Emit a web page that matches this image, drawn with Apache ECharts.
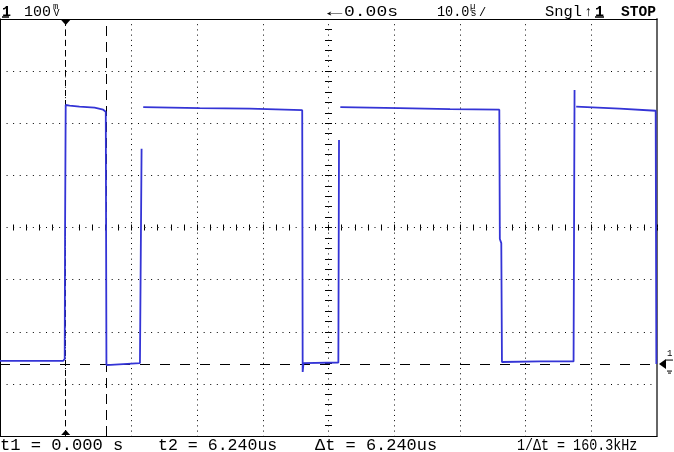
<!DOCTYPE html>
<html><head><meta charset="utf-8">
<script src="https://cdn.jsdelivr.net/npm/echarts@6/dist/echarts.min.js"></script>
<style>html,body{margin:0;padding:0;background:#fff}#c{width:674px;height:452px}</style>
</head><body><div id="c"></div>
<script>
// Horizontal: 10 µs / div, 10 divisions
const timeTicks = [-10, 0, 10, 20, 30, 40, 50, 60, 70, 80, 90];
// Vertical: 100 mV / div, 8 divisions, screen centre = 0
const voltTicks = [-400, -300, -200, -100, 0, 100, 200, 300, 400];
// Channel 1 ground marker position (mV from screen centre)
const groundLevelMv = -262;
// Cursors (µs)
const cursorT1 = 0;
const cursorT2 = 6.24;
// Captured trace: time (µs)
const traceTime = [-10, -0.4, -0.15, -0.1, 0, 0.6, 2.1, 4.4, 5.7, 6.1,
  6.2, 6.4, 11.3, 11.5, 11.55, 11.7, 11.8, 20.4, 28.0, 36.0,
  36.07, 36.2, 41.5, 41.6, 41.7, 41.8, 50.8, 58.5, 66.0, 66.08,
  66.3, 66.4, 72.2, 77.3, 77.45, 77.55, 77.7, 84.3, 89.8, 89.9, 90];
// Captured trace: mV above ground (null = no trace drawn)
const traceMv = [6, 6, 10, 250, 497, 496, 494, 492, 488, 484,
  -2, -2, 2, 2, 413, null, 493, 491, 490, 487,
  -15, 2, 3, 430, null, 493, 491, 489, 488, 240,
  232, 4, 5, 5, 526, null, 494, 490, 486, 0, 0];
// Status texts
const topTexts = {ch: '1', scale: '100', delay: '0.00s', timebase: '10.0', mode: 'Sngl', trig: '1', run: 'STOP'};
const bottomTexts = ['t1 = 0.000 s', 't2 = 6.240us', 'Δt = 6.240us', '1/Δt = 160.3kHz'];

(function () {
const chart = echarts.init(document.getElementById('c'));
const GRID = {left: 0, right: 17, top: 19, bottom: 16};
const gridW = 674 - GRID.left - GRID.right;
const gridH = 452 - GRID.top - GRID.bottom;
const tMin = timeTicks[0], tMax = timeTicks[timeTicks.length - 1], tInt = timeTicks[1] - timeTicks[0];
const vMin = voltTicks[0], vMax = voltTicks[voltTicks.length - 1], vInt = voltTicks[1] - voltTicks[0];

const traceData = traceTime.map((t, i) => [t, traceMv[i] === null ? '-' : traceMv[i] + groundLevelMv]);

function xa(extra) {
  return Object.assign({type: 'value', min: tMin, max: tMax, interval: tInt,
    axisLabel: {show: false}, axisTick: {show: false}, splitLine: {show: false},
    axisLine: {show: false, onZero: false}}, extra);
}
function ya(extra) {
  return Object.assign({type: 'value', min: vMin, max: vMax, interval: vInt,
    axisLabel: {show: false}, axisTick: {show: false}, splitLine: {show: false},
    axisLine: {show: false, onZero: false}}, extra);
}
const blk = {color: '#000', width: 1};

chart.setOption({
  animation: false,
  backgroundColor: '#fff',
  grid: Object.assign({outerBoundsMode: 'none', containLabel: false}, GRID),
  xAxis: [
    xa({position: 'bottom', axisLine: {show: true, onZero: false, lineStyle: blk},
        splitLine: {show: true, lineStyle: {color: '#000', width: 1, type: [1, 4.21]}}}),
    xa({position: 'top', axisLine: {show: true, onZero: false, lineStyle: blk}}),
    xa({position: 'bottom', offset: -gridH / 2,
        axisTick: {show: true, length: 3, inside: false, lineStyle: blk},
        minorTick: {show: true, splitNumber: 5, length: 3, lineStyle: blk}}),
    xa({position: 'bottom', offset: -gridH / 2,
        axisTick: {show: true, length: 3, inside: true, lineStyle: blk},
        minorTick: {show: true, splitNumber: 5, length: 3, lineStyle: blk}})
  ],
  yAxis: [
    ya({position: 'left', axisLine: {show: true, onZero: false, lineStyle: blk},
        splitLine: {show: true, lineStyle: {color: '#000', width: 1, type: [1, 5.57]}}}),
    ya({position: 'right', axisLine: {show: true, onZero: false, lineStyle: {color: '#666', width: 2}}}),
    ya({position: 'left', offset: -gridW / 2,
        axisTick: {show: true, length: 3.5, inside: false, lineStyle: blk},
        minorTick: {show: true, splitNumber: 5, length: 3.5, lineStyle: blk}}),
    ya({position: 'left', offset: -gridW / 2,
        axisTick: {show: true, length: 3.5, inside: true, lineStyle: blk},
        minorTick: {show: true, splitNumber: 5, length: 3.5, lineStyle: blk}})
  ],
  series: [{
    type: 'line', xAxisIndex: 0, yAxisIndex: 0, data: traceData,
    showSymbol: false, symbol: 'none', connectNulls: false, clip: true,
    lineStyle: {color: '#3434d6', width: 1.8},
    z: 5,
    markLine: {
      silent: true, symbol: ['none', 'none'], label: {show: false}, animation: false,
      data: [
        {yAxis: groundLevelMv, lineStyle: {color: '#000', width: 1, type: [10, 10]}},
        {xAxis: cursorT1, lineStyle: {color: '#000', width: 1, type: [6, 4]}},
        {xAxis: cursorT2, lineStyle: {color: '#000', width: 1, type: [10, 6]}}
      ]
    }
  }]
});

const FONT = '"Liberation Mono", "DejaVu Sans Mono", monospace';
function txt(s, x, y, size, o) {
  o = o || {};
  return {type: 'text', x: x, y: y, scaleX: o.sx || 1, silent: true, z: 10,
    style: {text: s, x: 0, y: 0, fill: '#000', font: (o.bold ? 'bold ' : '') + size + 'px ' + FONT,
      textAlign: 'left', textVerticalAlign: 'middle'}};
}
function ln(x1, y1, x2, y2, w, c) {
  return {type: 'line', silent: true, z: 10, shape: {x1, y1, x2, y2}, style: {stroke: c || '#000', lineWidth: w || 1}};
}

const px1 = chart.convertToPixel({xAxisIndex: 0}, cursorT1);
const pyG = chart.convertToPixel({yAxisIndex: 0}, groundLevelMv);
const gTop = GRID.top, gBot = 452 - GRID.bottom, gRight = 674 - GRID.right;

const els = [
  txt(topTexts.ch, 2, 12.5, 15, {bold: true}), ln(2, 17, 9, 17, 1.5),
  txt(topTexts.scale, 24, 12.5, 15, {sx: 1.0}),
  txt('m', 53, 6.5, 9), txt('V', 53.5, 13.5, 10),
  txt('←', 327, 12.5, 15, {sx: 1.7}),
  txt(topTexts.delay, 344, 12.5, 15, {sx: 1.2}),
  txt(topTexts.timebase, 437, 12.5, 15, {sx: 0.9}),
  txt('µ', 470, 6.5, 9), txt('s', 470.5, 13.5, 10), txt('/', 479, 13, 12),
  txt(topTexts.mode, 545, 12.5, 15, {sx: 1.03}),
  txt('↑', 584, 12, 14),
  txt(topTexts.trig, 595, 12.5, 15, {bold: true}), ln(595, 17, 604, 17, 1.5),
  txt(topTexts.run, 621, 12, 15, {bold: true, sx: 0.97}),
  txt(bottomTexts[0], 0, 445.5, 16, {sx: 1.07}),
  txt(bottomTexts[1], 158, 445.5, 16, {sx: 1.035}),
  txt(bottomTexts[2], 315, 445.5, 16, {sx: 1.06}),
  txt(bottomTexts[3], 517, 445.5, 16, {sx: 0.835}),
  {type: 'polygon', silent: true, z: 10, shape: {points: [[px1 - 4.5, gTop + 1], [px1 + 4.5, gTop + 1], [px1, gTop + 6]]}, style: {fill: '#000'}},
  {type: 'polygon', silent: true, z: 10, shape: {points: [[px1 - 4.5, gBot - 1], [px1 + 4.5, gBot - 1], [px1, gBot - 6]]}, style: {fill: '#000'}},
  {type: 'polygon', silent: true, z: 10, shape: {points: [[gRight + 2, pyG], [gRight + 9, pyG - 5], [gRight + 9, pyG + 5]]}, style: {fill: '#000'}},
  ln(gRight + 9, pyG - 4, gRight + 16, pyG - 4, 1),
  txt('1', gRight + 10, pyG - 10, 9),
  ln(gRight + 10, pyG + 7, gRight + 15, pyG + 7, 1),
  ln(gRight + 11, pyG + 9, gRight + 14, pyG + 9, 1)
];
chart.setOption({graphic: {elements: els}});
})();
</script>
</body></html>
